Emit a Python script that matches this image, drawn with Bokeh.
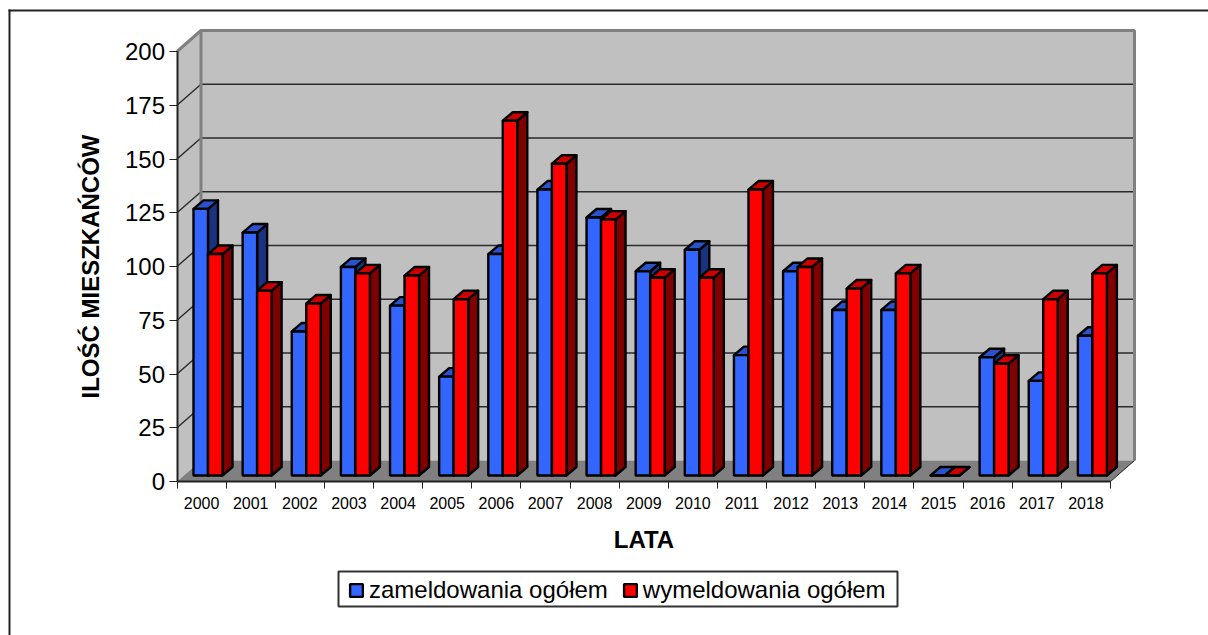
from bokeh.plotting import figure
from bokeh.embed import file_html
from bokeh.resources import INLINE
from bokeh.models import FixedTicker, Legend, LegendItem, BoxAnnotation

years = ["2000","2001","2002","2003","2004","2005","2006","2007","2008","2009",
         "2010","2011","2012","2013","2014","2015","2016","2017","2018"]
zameldowania = [124,113,67,97,79,46,103,133,120,95,105,56,95,77,77,0,55,44,65]
wymeldowania = [103,86,80,94,93,82,165,145,119,92,92,133,97,87,94,0,52,82,94]
y_ticks = [0,25,50,75,100,125,150,175,200]

W, H = 1208, 635
AX_X, AX_Y = 176.5, 481   # page position of the axis origin
PX_CAT = 933.5/19    # px per category
PX_VAL = 430/200     # px per value unit
DX, DY = 24/PX_CAT, 21/PX_VAL            # wall depth
BX, BY = 10/PX_CAT, 8.5/PX_VAL           # bar depth
B0X, B0Y = 16.5/PX_CAT, 6/PX_VAL         # offset of first bar's base
BW = 14.5/PX_CAT

p = figure(width=W, height=H, output_backend="svg", toolbar_location=None,
           x_range=(-AX_X/PX_CAT, (W-AX_X)/PX_CAT), y_range=(-(H-AX_Y)/PX_VAL, AX_Y/PX_VAL),
           min_border=0, outline_line_color=None, background_fill_color="white", border_fill_color="white")
p.xgrid.visible = False
p.ygrid.visible = False

n = len(years)
top = 200
# walls and floor
p.patches([[0, DX, DX, 0]], [[0, DY, top+DY, top]], fill_color="#c0c0c0", line_color=None)
p.patches([[DX, n+DX, n+DX, DX]], [[DY, DY, top+DY, top+DY]], fill_color="#c0c0c0", line_color=None)
# gridlines
gv = y_ticks[1:-1]
p.multi_line([[0, DX, n+DX] for _ in gv], [[v, v+DY, v+DY] for v in gv], line_color="#2a2a2a", line_width=1.4)
p.patches([[0, n, n+DX, DX]], [[0, 0, DY, DY]], fill_color="#808080", line_color=None)
# wall outlines
p.multi_line([[0, DX, n+DX, n+DX], [DX, DX]], [[top, top+DY, top+DY, DY], [DY, top+DY]],
             line_color="#808080", line_width=3)
p.multi_line([[n, n+DX]], [[0, DY]], line_color="#222222", line_width=1)

def bars(vals, off, front, side, top_col):
    xs, ys, cols = [], [], []
    l = [i+B0X+off for i in range(n)]
    r = [a+BW for a in l]
    t = [B0Y+v for v in vals]
    for a, b, h in zip(l, r, t):
        xs.append([b, b+BX, b+BX, b]); ys.append([B0Y, B0Y+BY, h+BY, h]); cols.append(side)
        xs.append([a, b, b+BX, a+BX]); ys.append([h, h, h+BY, h+BY]); cols.append(top_col)
    p.patches(xs, ys, fill_color=cols, line_color="black", line_width=2.4, line_join="round")
    return p.quad(left=l, right=r, bottom=[B0Y]*n, top=t, fill_color=front, line_color="black", line_width=2.4)

q1 = bars(zameldowania, 0, "#3366ff", "#1a3380", "#2a52cc")
q2 = bars(wymeldowania, BW, "#ff0000", "#800000", "#cc0000")

# axes
for ax in (p.xaxis, p.yaxis):
    ax.fixed_location = 0
    ax.axis_line_color = "#222222"
    ax.axis_line_width = 2
    ax.major_label_text_font = "Liberation Sans"
    ax.major_label_text_color = "black"
    ax.axis_label_text_font = "Liberation Sans"
    ax.axis_label_text_font_style = "bold"
    ax.axis_label_text_color = "black"
    ax.axis_label_text_font_size = "24px"

p.yaxis.ticker = FixedTicker(ticks=y_ticks)
p.yaxis.bounds = (0, 200)
p.yaxis.major_tick_line_color = "#222222"
p.yaxis.major_tick_out = 8
p.yaxis.major_tick_in = 0
p.yaxis.minor_tick_line_color = None
p.yaxis.major_label_text_font_size = "24px"
p.yaxis.major_label_standoff = 4
p.yaxis.axis_label = "ILOŚĆ MIESZKAŃCÓW"
p.yaxis.axis_label_standoff = 18

p.xaxis.ticker = FixedTicker(ticks=[i+0.5 for i in range(n)], minor_ticks=list(range(n+1)))
p.xaxis.major_label_overrides = {i+0.5: y for i, y in enumerate(years)}
p.xaxis.bounds = (0, n)
p.xaxis.major_tick_line_color = None
p.xaxis.minor_tick_line_color = "#222222"
p.xaxis.minor_tick_out = 7
p.xaxis.minor_tick_in = 0
p.xaxis.major_label_text_font_size = "16px"
p.xaxis.major_label_standoff = 8
p.xaxis.axis_label = "LATA"
p.xaxis.axis_label_standoff = 14

# legend box, then legend without its own frame
p.add_layout(BoxAnnotation(left=338, right=897, top=H-571, bottom=H-606, left_units="screen", right_units="screen",
                           top_units="screen", bottom_units="screen", fill_color="white", fill_alpha=1,
                           line_color="#333333", line_alpha=1, line_width=2, level="annotation"))
legend = Legend(items=[LegendItem(label="zameldowania ogółem", renderers=[q1]),
                       LegendItem(label="wymeldowania ogółem", renderers=[q2])],
                orientation="horizontal", location=(348, H-604),
                label_text_font="Liberation Sans", label_text_font_size="24px", label_text_color="black",
                border_line_color=None, background_fill_alpha=0,
                glyph_width=16, glyph_height=16, spacing=14, padding=10, margin=0,
                label_standoff=5)
p.add_layout(legend, "center")

# chart border (top and left sides are what the page shows)
p.add_layout(BoxAnnotation(left=8, right=W, top=H-9, bottom=H-11, left_units="screen", right_units="screen",
                           top_units="screen", bottom_units="screen", fill_color="#222222", fill_alpha=1, line_color=None))
p.add_layout(BoxAnnotation(left=8, right=10, top=H-9, bottom=0, left_units="screen", right_units="screen",
                           top_units="screen", bottom_units="screen", fill_color="#222222", fill_alpha=1, line_color=None))

open("out.html", "w").write(file_html(p, INLINE))
